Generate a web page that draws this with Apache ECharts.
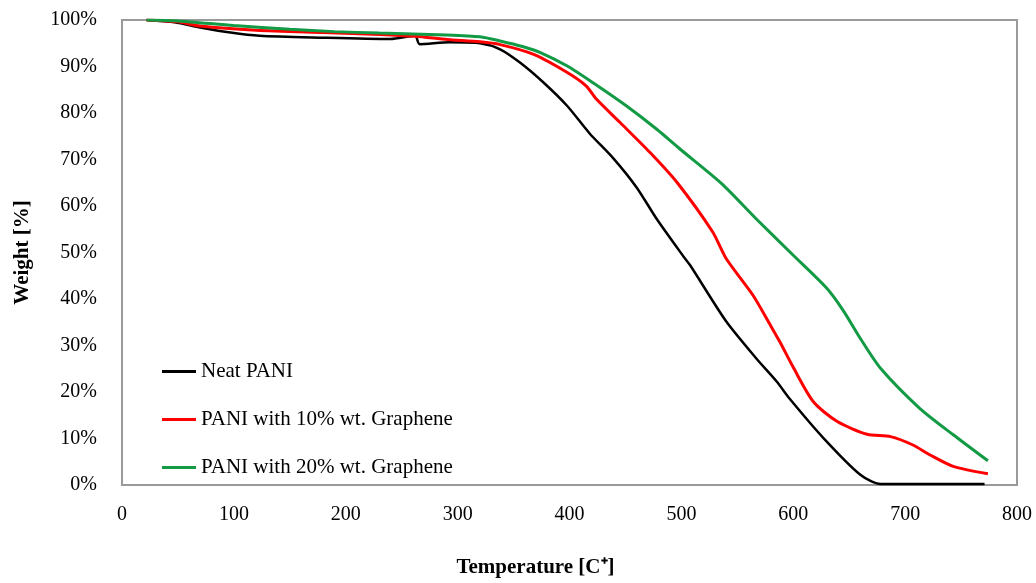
<!DOCTYPE html>
<html>
<head>
<meta charset="utf-8">
<script src="https://cdn.jsdelivr.net/npm/echarts@6/dist/echarts.min.js"></script>
<style>
    html, body { margin: 0; padding: 0; background: #fff; }
    #chart { width: 1036px; height: 583px; }
</style>
</head>
<body>
<div id="chart"></div>
<script>
// temperature [C], weight [%]
var neatPani = [
    [22, 100], [47, 99.5], [70, 98.4], [97, 97.3], [123, 96.6], [177, 96.2], [240, 95.9],
    [262, 96.6], [266, 94.8], [293, 95.2], [320, 95.0], [338, 93.7], [356, 90.8], [377, 86.5],
    [398, 81.5], [418, 75.6], [439, 70.3], [460, 64.0], [478, 57.2], [502, 49.1],
    [508, 47.2], [540, 35.2], [567, 27.2], [585, 22.3], [597, 18.5], [627, 10.1],
    [660, 2.2], [678, 0.2], [771, 0.2]
];
var pani10 = [
    [22, 100], [50, 99.6], [70, 98.7], [120, 97.8], [180, 97.3], [231, 96.9], [262, 96.5],
    [291, 95.8], [320, 95.3], [338, 94.7], [368, 92.6], [398, 88.7], [415, 85.8], [424, 83.0],
    [445, 78.0], [472, 71.5], [496, 65.1], [528, 54.4], [540, 48.7], [564, 40.8], [579, 34.6],
    [588, 30.8], [600, 25.3], [618, 17.9], [639, 13.7], [666, 10.9], [687, 10.4],
    [707, 8.6], [722, 6.5], [743, 4.0], [774, 2.4]
];
var pani20 = [
    [22, 100], [50, 99.8], [100, 98.8], [150, 98.0], [190, 97.5], [230, 97.2], [290, 96.8],
    [320, 96.4], [338, 95.5], [358, 94.3], [374, 93.0], [398, 90.1], [421, 86.5], [451, 81.5],
    [478, 76.5], [499, 72.2], [536, 64.8], [567, 57.2], [600, 49.4], [630, 42.3], [645, 37.4],
    [660, 31.5], [678, 25.1], [713, 16.5], [743, 10.8], [774, 5.2]
];
var seriesNames = ['Neat PANI', 'PANI with 10% wt. Graphene', 'PANI with 20% wt. Graphene'];

var font = '"Liberation Serif", "Times New Roman", serif';

var chart = echarts.init(document.getElementById('chart'));

function lineSeries(name, data, color, width) {
    return {
        name: name,
        type: 'line',
        data: data,
        showSymbol: false,
        symbol: 'none',
        smooth: 0.25,
        lineStyle: { color: color, width: width },
        itemStyle: { color: color }
    };
}

var option = {
    animation: false,
    grid: {
        left: 122, right: 19, top: 20, bottom: 96,
        show: true, borderColor: '#9a9a9a', borderWidth: 2
    },
    legend: {
        orient: 'vertical',
        left: 157, top: 356,
        itemGap: 27,
        itemWidth: 34, itemHeight: 3,
        icon: 'rect',
        textStyle: { fontFamily: font, fontSize: 21, color: '#000' },
        data: seriesNames
    },
    xAxis: {
        type: 'value', min: 0, max: 800, interval: 100,
        axisLine: { show: false }, axisTick: { show: false }, splitLine: { show: false },
        axisLabel: { fontFamily: font, fontSize: 20, color: '#000', margin: 20 },
        name: 'Temperature [C\u207A]',
        nameLocation: 'middle', nameGap: 72,
        nameTextStyle: { fontFamily: font, fontSize: 21, fontWeight: 'bold', color: '#000', padding: [0, 68, 0, 0] }
    },
    yAxis: {
        type: 'value', min: 0, max: 100, interval: 10,
        axisLine: { show: false }, axisTick: { show: false }, splitLine: { show: false },
        axisLabel: { fontFamily: font, fontSize: 20, color: '#000', margin: 25, formatter: '{value}%' },
        name: 'Weight [%]',
        nameLocation: 'middle', nameGap: 89,
        nameTextStyle: { fontFamily: font, fontSize: 21, fontWeight: 'bold', color: '#000' }
    },
    series: [
        lineSeries(seriesNames[0], neatPani, '#000000', 2.5),
        lineSeries(seriesNames[1], pani10, '#ff0000', 3),
        lineSeries(seriesNames[2], pani20, '#129a44', 3)
    ]
};
chart.setOption(option);
</script>
</body>
</html>
